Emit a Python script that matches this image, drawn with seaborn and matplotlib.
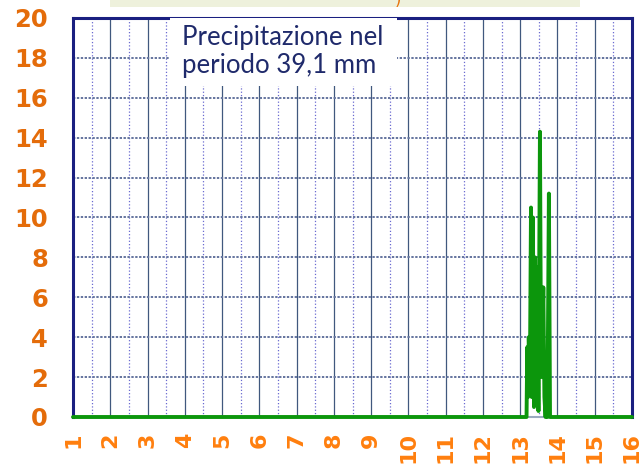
import numpy as np
import pandas as pd
import matplotlib
matplotlib.use('Agg')
import matplotlib.pyplot as plt
import seaborn as sns
from matplotlib.ticker import MultipleLocator
from matplotlib.patches import Rectangle

# Data: rainfall (mm) against day of the period
days = [1.0, 13.17, 13.19, 13.21, 13.23, 13.26, 13.29, 13.31, 13.34, 13.37,
        13.40, 13.43, 13.46, 13.49, 13.53, 13.56, 13.59, 13.62, 13.65,
        13.68, 13.71, 13.73, 13.77, 13.80, 16.0]
rain_mm = [0.0, 0.0, 3.5, 1.0, 4.0, 2.0, 10.5, 1.0, 10.0, 0.5,
           8.0, 1.5, 7.5, 0.3, 14.3, 2.0, 3.0, 6.5, 1.0,
           0.0, 2.0, 0.0, 11.2, 0.0, 0.0]
x_ticks = list(range(1, 17))
y_ticks = list(range(0, 21, 2))
note_lines = ["Precipitazione nel", "periodo 39,1 mm"]

df = pd.DataFrame({'giorno': days, 'mm': rain_mm})

sns.set_style("white")
plt.rcParams['font.family'] = ['DejaVu Sans']

fig = plt.figure(figsize=(6.44, 4.66), dpi=100)
ax = fig.add_axes([73/644, 49/466, 559/644, 399/466])

# title box cut off at the top of the slide
fig.patches.append(Rectangle((110/644, 459/466), 470/644, 7/466, transform=fig.transFigure,
                             facecolor='#eef1dc', edgecolor='none', zorder=0))
fig.text(398/644, 1.0, ')', color='#e8730c', fontsize=12, ha='center', va='center')

sns.lineplot(data=df, x='giorno', y='mm', ax=ax, color='#0c960c', linewidth=2.8,
             estimator=None, sort=False, zorder=5, clip_on=False)

ax.set_xlim(1, 16)
ax.set_ylim(0, 20)
ax.set_xticks(x_ticks)
ax.set_yticks(y_ticks)
ax.xaxis.set_minor_locator(MultipleLocator(0.5))

ax.grid(which='major', axis='x', color='#40587e', linewidth=0.9, linestyle='-')
ax.grid(which='minor', axis='x', color='#6a6ad0', linewidth=0.9, linestyle=':')
ax.grid(which='major', axis='y', color='#64749e', linewidth=1.4, linestyle=(0, (1.2, 0.8)))
ax.set_axisbelow(True)

for side in ['left', 'right', 'top']:
    ax.spines[side].set_color('#1a1f80')
    ax.spines[side].set_linewidth(2.2)
ax.spines['bottom'].set_color('#9aaac0')
ax.spines['bottom'].set_linewidth(1.5)

ax.tick_params(axis='y', which='major', length=6, width=1.2, color='#9aaac0',
               labelsize=17.5, labelcolor='#e46c0a', pad=12)
ax.tick_params(axis='x', which='major', length=6, width=1.0, color='#2a3a70',
               labelsize=16, labelcolor='#ff7f0e', pad=5, labelrotation=90)
ax.tick_params(axis='x', which='minor', length=0)
for lab in ax.get_yticklabels() + ax.get_xticklabels():
    lab.set_fontweight('bold')

ax.set_xlabel('')
ax.set_ylabel('')

# white note box covering the grid
ax.add_patch(Rectangle((0.1735, 0.8296), 0.4065, 0.1704, transform=ax.transAxes,
                       facecolor='white', edgecolor='none', zorder=3))
for line, yb in zip(note_lines, [0.9323, 0.8622]):
    ax.text(0.195, yb, line, transform=ax.transAxes, ha='left', va='baseline',
            fontsize=18.5, color='#1f2a6b', family=['Lato', 'DejaVu Sans'], zorder=4)

fig.savefig('out.png', dpi=100)
